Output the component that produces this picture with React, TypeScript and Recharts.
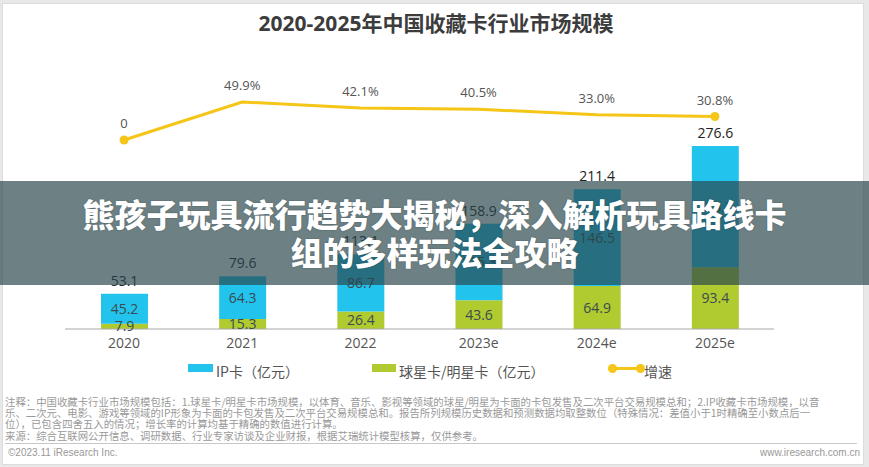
import React from 'react';
import { ComposedChart, Bar, Line, XAxis, YAxis, LabelList } from 'recharts';

const years = ['2020', '2021', '2022', '2023e', '2024e', '2025e'];
const ipCard = [45.2, 64.3, 86.7, 115.3, 146.5, 183.2];
const starCard = [7.9, 15.3, 26.4, 43.6, 64.9, 93.4];
const totals = [53.1, 79.6, 113.1, 158.9, 211.4, 276.6];
const growth = [0, 49.9, 42.1, 40.5, 33.0, 30.8];

const titleText = '2020-2025年中国收藏卡行业市场规模';
const bannerLine1 = '熊孩子玩具流行趋势大揭秘，深入解析玩具路线卡';
const bannerLine2 = '组的多样玩法全攻略';
const legendIp = 'IP卡（亿元）';
const legendStar = '球星卡/明星卡（亿元）';
const legendGrowth = '增速';
const notes = [
  '注释：中国收藏卡行业市场规模包括：1.球星卡/明星卡市场规模，以体育、音乐、影视等领域的球星/明星为卡面的卡包发售及二次平台交易规模总和；2.IP收藏卡市场规模，以音',
  '乐、二次元、电影、游戏等领域的IP形象为卡面的卡包发售及二次平台交易规模总和。报告所列规模历史数据和预测数据均取整数位（特殊情况：差值小于1时精确至小数点后一',
  '位），已包含四舍五入的情况；增长率的计算均基于精确的数值进行计算。',
  '来源：综合互联网公开信息、调研数据、行业专家访谈及企业财报，根据艾瑞统计模型核算，仅供参考。',
];
const copyright = '©2023.11 iResearch Inc.';
const site = 'www.iresearch.com.cn';

const data = years.map((y, i) => ({
  year: y,
  ip: ipCard[i],
  star: starCard[i],
  total: totals[i],
  growth: growth[i],
}));

const BLUE = '#22C4EE';
const GREEN = '#AFCB2F';
const YELLOW = '#F5C518';
const FONT = '"Open Sans", "Noto Sans CJK SC", sans-serif';
const CJK = '"Noto Sans CJK SC", sans-serif';

const renderDot = (props: any) => {
  const { cx, cy, index } = props;
  if (index === 0 || index === years.length - 1) {
    return <circle key={`d${index}`} cx={cx} cy={cy} r={4.5} fill={YELLOW} stroke="none" />;
  }
  return <g key={`d${index}`} />;
};

export default function App() {
  return (
    <div style={{ position: 'absolute', left: 0, top: 0, width: 869, height: 467, background: '#e8e8e8', overflow: 'hidden', fontFamily: FONT }}>
      <div style={{ position: 'absolute', left: 2, top: 3, width: 860, height: 460, background: '#fff', border: '1px solid #dcdcdc' }} />
      <div style={{ position: 'absolute', left: 0, top: 9, width: 872, textAlign: 'center', fontSize: 21, fontWeight: 700, color: '#3c3c3c', fontFamily: FONT, lineHeight: '28px' }}>
        {titleText}
      </div>
      <div style={{ position: 'absolute', left: 0, top: 0 }}>
        <ComposedChart width={869} height={467} data={data} margin={{ top: 60, right: 95, bottom: 108, left: 65 }}>
          <XAxis
            dataKey="year"
            height={30}
            axisLine={{ stroke: '#a8a8a8' }}
            tickLine={false}
            tick={{ fill: '#555', fontSize: 14, fontFamily: FONT }}
            dy={1}
          />
          <YAxis yAxisId="left" hide domain={[0, 406.6]} />
          <YAxis yAxisId="right" hide domain={[-248.2, 105.06]} />
          <Bar yAxisId="left" dataKey="star" stackId="a" fill={GREEN} barSize={47} isAnimationActive={false}>
            <LabelList dataKey="star" position="center" fill="#3d4a4f" fontSize={14} fontFamily={FONT} />
          </Bar>
          <Bar yAxisId="left" dataKey="ip" stackId="a" fill={BLUE} barSize={47} isAnimationActive={false}>
            <LabelList dataKey="ip" position="center" fill="#3d4a4f" fontSize={14} fontFamily={FONT} />
            <LabelList dataKey="total" position="top" offset={8} fill="#222" fontSize={14} fontFamily={FONT} />
          </Bar>
          <Line
            yAxisId="right"
            dataKey="growth"
            type="linear"
            stroke={YELLOW}
            strokeWidth={3}
            dot={renderDot}
            activeDot={false}
            isAnimationActive={false}
          >
            <LabelList
              dataKey="growth"
              position="top"
              offset={12}
              fill="#555"
              fontSize={13}
              fontFamily={FONT}
              formatter={(v: any) => (Number(v) === 0 ? '0' : `${Number(v).toFixed(1)}%`)}
            />
          </Line>
        </ComposedChart>
      </div>

      {/* Legend */}
      <div style={{ position: 'absolute', left: 188, top: 364, width: 25, height: 8, background: BLUE }} />
      <div style={{ position: 'absolute', left: 216, top: 361, fontSize: 14, color: '#555', fontFamily: CJK, lineHeight: '20px', whiteSpace: 'nowrap' }}>{legendIp}</div>
      <div style={{ position: 'absolute', left: 372, top: 364, width: 24, height: 8, background: GREEN }} />
      <div style={{ position: 'absolute', left: 399, top: 361, fontSize: 14, color: '#555', fontFamily: CJK, lineHeight: '20px', whiteSpace: 'nowrap' }}>{legendStar}</div>
      <div style={{ position: 'absolute', left: 612, top: 367, width: 30, height: 3, background: YELLOW }} />
      <div style={{ position: 'absolute', left: 608, top: 364, width: 9, height: 9, borderRadius: 5, background: YELLOW }} />
      <div style={{ position: 'absolute', left: 636, top: 364, width: 9, height: 9, borderRadius: 5, background: YELLOW }} />
      <div style={{ position: 'absolute', left: 644, top: 361, fontSize: 14, color: '#555', fontFamily: CJK, lineHeight: '20px', whiteSpace: 'nowrap' }}>{legendGrowth}</div>

      {/* Notes */}
      <div style={{ position: 'absolute', left: 5, top: 396, fontSize: 10.4, color: '#999', fontFamily: CJK, lineHeight: '11px', whiteSpace: 'nowrap' }}>
        {notes.slice(0, 3).map((n, i) => (
          <div key={i}>{n}</div>
        ))}
      </div>
      <div style={{ position: 'absolute', left: 5, top: 430, fontSize: 10.4, color: '#999', fontFamily: CJK, lineHeight: '11px', whiteSpace: 'nowrap' }}>{notes[3]}</div>
      <div style={{ position: 'absolute', left: 5, top: 443, width: 852, height: 1, background: '#c8c8c8' }} />
      <div style={{ position: 'absolute', left: 8, top: 447, fontSize: 10, color: '#999', fontFamily: '"Liberation Sans", Arial, sans-serif', lineHeight: '12px' }}>{copyright}</div>
      <div style={{ position: 'absolute', right: 9, top: 447, fontSize: 10, color: '#999', fontFamily: '"Liberation Sans", Arial, sans-serif', lineHeight: '12px' }}>{site}</div>

      {/* Banner overlay */}
      <div style={{ position: 'absolute', left: 0, top: 181, width: 869, height: 104, background: 'rgba(40,70,75,0.68)' }} />
      <div style={{ position: 'absolute', left: 0, top: 194, width: 869, textAlign: 'center', color: '#fff', fontSize: 32, fontWeight: 900, fontFamily: CJK, lineHeight: '38px', textShadow: '0 0 2px rgba(0,0,0,0.3)' }}>
        <div>{bannerLine1}</div>
        <div>{bannerLine2}</div>
      </div>
    </div>
  );
}
